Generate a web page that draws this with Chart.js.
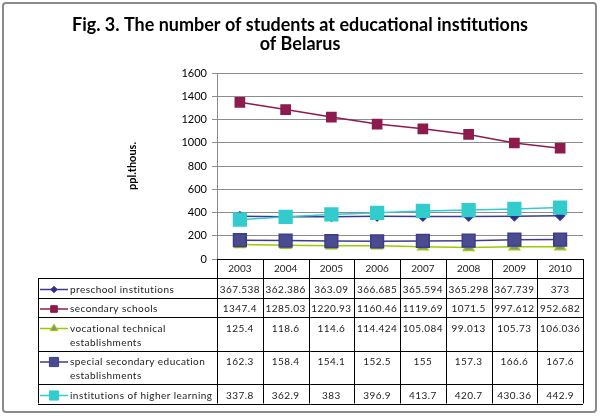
<!DOCTYPE html>
<html>
<head>
<meta charset="utf-8">
<script src="https://cdn.jsdelivr.net/npm/chart.js@4.4.1/dist/chart.umd.min.js"></script>
<style>
  html, body { margin: 0; padding: 0; background: #fff; }
  canvas { display: block; }
</style>
</head>
<body>
<canvas id="graphics" width="600" height="416"></canvas>
<script>
// chart data
const years = ['2003', '2004', '2005', '2006', '2007', '2008', '2009', '2010'];
const preschool = [367.538, 362.386, 363.09, 366.685, 365.594, 365.298, 367.739, 373];
const secondary = [1347.4, 1285.03, 1220.93, 1160.46, 1119.69, 1071.5, 997.612, 952.682];
const vocational = [125.4, 118.6, 114.6, 114.424, 105.084, 99.013, 105.73, 106.036];
const specialSecondary = [162.3, 158.4, 154.1, 152.5, 155, 157.3, 166.6, 167.6];
const higher = [337.8, 362.9, 383, 396.9, 413.7, 420.7, 430.36, 442.9];
const seriesNames = [
    'preschool institutions',
    'secondary schools',
    'vocational technical establishments',
    'special secondary education establishments',
    'institutions of higher learning'
];
const titleLines = ['Fig. 3. The number of students at educational institutions', 'of Belarus'];
const yTitle = 'ppl.thous.';
const yMin = 0, yMax = 1600, yStep = 200;

const FONT = "Lato, 'Liberation Sans', sans-serif";
Chart.defaults.font.family = FONT;

// wrap a label into lines that fit the first table column
const wrapText = (ctx, text, maxW) => {
    const words = text.split(' ');
    const lines = [];
    let cur = '';
    words.forEach((w) => {
        const test = cur ? cur + ' ' + w : w;
        if (cur && ctx.measureText(test).width > maxW) {
            lines.push(cur);
            cur = w;
        } else {
            cur = test;
        }
    });
    if (cur) lines.push(cur);
    return lines;
};

const frameAndTable = {
    id: 'frameAndTable',
    beforeDraw(chart) {
        const ctx = chart.ctx;
        ctx.save();
        ctx.fillStyle = '#fff';
        ctx.fillRect(0, 0, chart.width, chart.height);
        ctx.strokeStyle = '#8a8a8a';
        ctx.lineWidth = 2;
        ctx.beginPath();
        ctx.roundRect(3, 3, 593, 409, 3);
        ctx.stroke();

        // title
        ctx.fillStyle = '#000';
        ctx.font = 'bold 18px ' + FONT;
        ctx.textAlign = 'center';
        ctx.textBaseline = 'alphabetic';
        ctx.fillText(titleLines[0], 300, 31, 456);
        ctx.fillText(titleLines[1], 300, 50, 456);
        ctx.restore();
    },
    afterDraw(chart) {
        const { ctx, chartArea, scales: { x } } = chart;
        const n = years.length;
        const colW = chartArea.width / n;
        const edges = [chartArea.left];
        for (let i = 0; i < n; i++) edges.push(x.getPixelForValue(i) + colW / 2);
        const tableLeft = 38;
        const headTop = chartArea.bottom;
        const headBottom = headTop + 19;

        ctx.save();
        ctx.font = '10px ' + FONT;
        ctx.letterSpacing = '0.45px';

        // row layout from wrapped labels
        const rows = seriesNames.map((name) => wrapText(ctx, name, 146));
        const tops = [headBottom];
        rows.forEach((lines, i) => tops.push(tops[i] + 19.5 + 14 * (lines.length - 1)));

        // grid of the table
        ctx.strokeStyle = '#000';
        ctx.lineWidth = 1;
        ctx.beginPath();
        const bottom = tops[tops.length - 1];
        edges.forEach((ex) => {
            const px = Math.round(ex) + 0.5;
            ctx.moveTo(px, headTop);
            ctx.lineTo(px, bottom);
        });
        ctx.moveTo(tableLeft + 0.5, headBottom);
        ctx.lineTo(tableLeft + 0.5, bottom);
        ctx.moveTo(edges[0], Math.round(headTop) + 0.5);
        ctx.lineTo(edges[n], Math.round(headTop) + 0.5);
        tops.forEach((ty) => {
            const py = Math.round(ty) + 0.5;
            ctx.moveTo(tableLeft, py);
            ctx.lineTo(edges[n], py);
        });
        ctx.stroke();

        // rows: legend key, label, values
        chart.data.datasets.forEach((ds, i) => {
            const y0 = tops[i] + 11.5;
            ctx.strokeStyle = ds.borderColor;
            ctx.lineWidth = ds.borderWidth;
            ctx.beginPath();
            ctx.moveTo(40, y0);
            ctx.lineTo(68, y0);
            ctx.stroke();
            ctx.fillStyle = ds.backgroundColor;
            ctx.strokeStyle = ds.pointBorderColor || ds.borderColor;
            ctx.lineWidth = 1;
            Chart.helpers.drawPoint(ctx, {
                pointStyle: ds.pointStyle,
                radius: ds.pointRadius * 0.72,
                rotation: 0,
                borderWidth: 1
            }, 54, y0);

            ctx.fillStyle = '#222';
            ctx.textAlign = 'left';
            ctx.textBaseline = 'middle';
            rows[i].forEach((line, k) => ctx.fillText(line, 70, y0 + 14 * k, 146));

            ctx.textAlign = 'center';
            ds.data.forEach((v, j) => {
                ctx.fillText(String(v), x.getPixelForValue(j), y0, colW - 3);
            });
        });
        ctx.restore();
    }
};

const chart = new Chart(document.getElementById('graphics'), {
    type: 'line',
    data: {
        labels: years,
        datasets: [{
            label: seriesNames[0],
            data: preschool,
            order: 3,
            borderColor: '#3a3a96',
            backgroundColor: '#2e2e86',
            pointStyle: 'rectRot',
            pointRadius: 4.5,
            borderWidth: 1.5
        }, {
            label: seriesNames[1],
            data: secondary,
            order: 2,
            borderColor: '#8e1b4e',
            backgroundColor: '#8e1b4e',
            pointStyle: 'rect',
            pointRadius: 6.5,
            borderWidth: 1.5
        }, {
            label: seriesNames[2],
            data: vocational,
            order: 4,
            borderColor: '#99cc00',
            backgroundColor: '#8c8c8c',
            pointBorderColor: '#99cc00',
            pointStyle: 'triangle',
            pointRadius: 6,
            borderWidth: 1.5
        }, {
            label: seriesNames[3],
            data: specialSecondary,
            order: 1,
            borderColor: '#3d3d8c',
            backgroundColor: '#4b4b8f',
            pointStyle: 'rect',
            pointRadius: 9,
            borderWidth: 1.5
        }, {
            label: seriesNames[4],
            data: higher,
            order: 0,
            borderColor: '#33cccc',
            backgroundColor: '#33cccc',
            pointStyle: 'rect',
            pointRadius: 9,
            borderWidth: 1.5
        }]
    },
    options: {
        responsive: false,
        animation: false,
        devicePixelRatio: 1,
        layout: { padding: { left: 120, right: 17, top: 73, bottom: 12 } },
        plugins: {
            legend: { display: false },
            tooltip: { enabled: false },
            title: { display: false }
        },
        elements: { line: { tension: 0 }, point: { borderWidth: 1 } },
        scales: {
            x: {
                offset: true,
                grid: { display: false, drawTicks: false },
                border: { display: false },
                ticks: { font: { size: 10 }, color: '#222', padding: 4, maxRotation: 0 },
                afterFit: (s) => { s.height = 145; }
            },
            y: {
                min: yMin,
                max: yMax,
                ticks: {
                    stepSize: yStep,
                    font: { size: 11 },
                    color: '#000',
                    padding: 5,
                    callback: (v) => String(v)
                },
                grid: { color: '#8c8c8c', tickLength: 5, tickColor: '#8c8c8c' },
                border: { color: '#8c8c8c' },
                title: {
                    display: true,
                    text: yTitle,
                    color: '#000',
                    font: { size: 11, weight: 'bold' },
                    padding: { top: 6, bottom: 0 }
                },
                afterFit: (s) => { s.width = 97; }
            }
        }
    },
    plugins: [frameAndTable]
});
</script>
</body>
</html>
